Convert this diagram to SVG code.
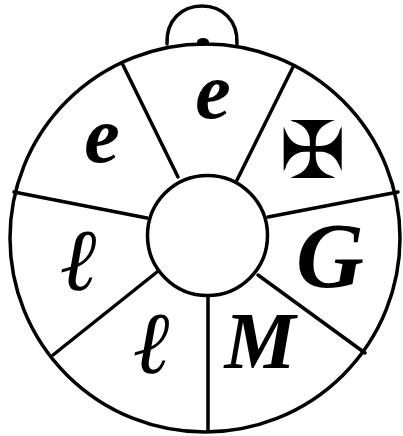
<svg xmlns="http://www.w3.org/2000/svg" width="403" height="436" viewBox="0 0 403 436">
<style>
.ln{fill:none;stroke:#000;stroke-width:3.5;stroke-linecap:round}
.t{font-family:"Liberation Serif","DejaVu Serif",serif;font-style:italic;font-weight:bold;fill:#000;text-anchor:middle}
</style>
<rect width="403" height="436" fill="#fff"/>
<g id="knob">
<path class="ln" d="M167,44 C166,20 182,6 202,6 C222,6 238,20 237,44"/>
<ellipse cx="203" cy="42" rx="6" ry="4" fill="#000"/>
</g>
<g id="outer"><ellipse class="ln" cx="205" cy="238" rx="195" ry="194"/></g>
<g id="connectors">
<line class="ln" x1="122" y1="63" x2="178" y2="177"/>
<line class="ln" x1="293" y1="67" x2="237" y2="180"/>
<line class="ln" x1="398" y1="192" x2="268" y2="217"/>
<line class="ln" x1="365" y1="353" x2="258" y2="275"/>
<line class="ln" x1="208" y1="431" x2="208" y2="296"/>
<line class="ln" x1="53" y1="355" x2="157" y2="272"/>
<line class="ln" x1="14" y1="192" x2="147" y2="218"/>
</g>
<g id="hub"><circle class="ln" cx="207.5" cy="235.5" r="60" fill="#fff"/></g>
<g id="s-top"><text class="t" x="213" y="118" font-size="80">e</text></g>
<g id="s-upleft"><text class="t" x="102" y="162" font-size="80">e</text></g>
<g id="s-cross"><text class="t" x="313" y="150" font-size="80" dominant-baseline="central" style="font-family:'DejaVu Sans',sans-serif;font-style:normal;font-weight:normal">✠</text></g>
<g id="s-G"><text class="t" x="330" y="287" font-size="94">G</text></g>
<g id="s-M"><text class="t" x="260" y="368" font-size="80">M</text></g>
<g id="s-l1"><text class="t" x="153" y="373" font-size="88">ℓ</text></g>
<g id="s-l2"><text class="t" x="80" y="290" font-size="88">ℓ</text></g>
</svg>
